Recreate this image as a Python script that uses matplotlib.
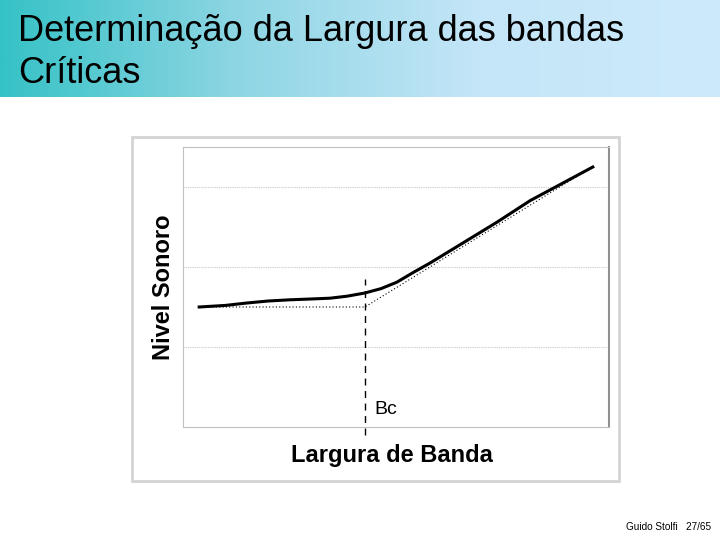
import numpy as np
import matplotlib
matplotlib.use('Agg')
import matplotlib.pyplot as plt
from matplotlib.colors import LinearSegmentedColormap
from matplotlib.patches import Rectangle

plt.rcParams['font.family'] = ['Liberation Sans', 'DejaVu Sans']

# curve (arbitrary units)
bw = [0.38, 1.00, 1.50, 2.00, 2.51, 3.00, 3.45, 3.85, 4.27, 4.65, 5.02, 5.40, 5.80, 6.57, 7.37, 8.15, 8.92, 9.62]
level = [1.50, 1.52, 1.55, 1.575, 1.59, 1.60, 1.61, 1.635, 1.675, 1.73, 1.81, 1.93, 2.05, 2.30, 2.56, 2.83, 3.05, 3.25]
# asymptotes
asym_x = [0.38, 4.27, 9.30]
asym_y = [1.50, 1.50, 3.15]
bc = 4.27
grid_y = [1, 2, 3]

title_lines = ['Determinação da Largura das bandas', 'Críticas']
footer = 'Guido Stolfi   27/65'

W, H = 720, 540
fig = plt.figure(figsize=(7.2, 5.4), dpi=100)

# header band with gradient
hx = fig.add_axes([0, 1 - 97 / H, 1, 97 / H])
cmap = LinearSegmentedColormap.from_list('hdr', ['#35c2c6', '#8fd6e4', '#c4e6f8', '#cdeafb'])
hx.imshow(np.linspace(0, 1, 256)[None, :], aspect='auto', cmap=cmap, extent=[0, 1, 0, 1])
hx.set_axis_off()
for i, line in enumerate(title_lines):
    fig.text(18 / W, 1 - (41 + 42 * i) / H, line, fontsize=26, va='baseline', ha='left')

# outer frame of the chart
fig.patches.append(Rectangle((132 / W, 1 - 481 / H), 487 / W, 344 / H, transform=fig.transFigure,
                             fill=False, edgecolor='#d4d4d4', lw=2))

ax = fig.add_axes([183 / W, 1 - 427 / H, 426 / W, 280 / H])
ax.set_xlim(0, 10)
ax.set_ylim(0, 3.5)
for y in grid_y:
    ax.axhline(y, color='#c8c8c8', lw=0.8, ls=(0, (1, 1)), zorder=0)
ax.plot(asym_x, asym_y, color='black', lw=0.8, ls=(0, (1, 2)))
ax.plot(bw, level, color='black', lw=2.2, solid_joinstyle='round')
ax.plot([bc, bc], [-0.1, 1.85], color='black', lw=1, ls=(0, (5, 4)), clip_on=False)
ax.text(bc + 0.23, 0.22, 'Bc', fontsize=14, va='center', ha='left')
ax.set_xticks([])
ax.set_yticks([])
for s in ['left', 'top', 'bottom']:
    ax.spines[s].set_color('#c0c0c0')
ax.spines['right'].set_color('#909090')
ax.spines['right'].set_linewidth(1.5)
ax.set_xlabel('Largura de Banda', fontsize=17, fontweight='bold', labelpad=13)
ax.xaxis.set_label_coords(0.49, -0.06, transform=ax.transAxes)
ax.xaxis.label.set_va('top')
ax.set_ylabel('Nivel Sonoro', fontsize=17, fontweight='bold', labelpad=6)

fig.text(626 / W, 1 - 527 / H, footer, fontsize=7.2, va='center', ha='left')

fig.savefig('out.png', dpi=100)
